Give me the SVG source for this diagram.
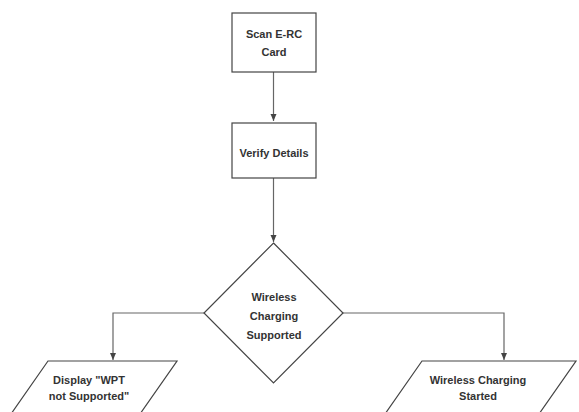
<svg xmlns="http://www.w3.org/2000/svg" width="579" height="412" viewBox="0 0 579 412">
<style>
.shape{fill:#fff;stroke:#444;stroke-width:1.2}
.conn{fill:none;stroke:#666;stroke-width:1.2}
.lbl{font-family:"Liberation Sans",Arial,sans-serif;font-size:11px;font-weight:bold;fill:#333;text-anchor:middle}
</style>
<defs>
<marker id="arr" markerWidth="8" markerHeight="8" refX="7" refY="4" orient="auto" markerUnits="userSpaceOnUse">
<path d="M0,1 L7,4 L0,7 Z" fill="#444"/>
</marker>
</defs>
<rect width="579" height="412" fill="#fff"/>
<g id="connectors">
<path class="conn" d="M273.5,72 V121" marker-end="url(#arr)"/>
<path class="conn" d="M273.5,178 V242" marker-end="url(#arr)"/>
<path class="conn" d="M204,313 H113 V360" marker-end="url(#arr)"/>
<path class="conn" d="M343,313 H504 V360" marker-end="url(#arr)"/>
</g>
<g id="scan">
<rect class="shape" x="232" y="13" width="84" height="59"/>
<text class="lbl" x="274" y="38">Scan E-RC</text>
<text class="lbl" x="274" y="56">Card</text>
</g>
<g id="verify">
<rect class="shape" x="232" y="123" width="84" height="55"/>
<text class="lbl" x="274" y="157">Verify Details</text>
</g>
<g id="decision">
<polygon class="shape" points="273.5,243 343,313 273.5,383 204,313"/>
<text class="lbl" x="274" y="301">Wireless</text>
<text class="lbl" x="274" y="320">Charging</text>
<text class="lbl" x="274" y="339">Supported</text>
</g>
<g id="not-supported">
<polygon class="shape" points="48,361 177,361 140,414 11,414"/>
<text class="lbl" x="89" y="384">Display "WPT</text>
<text class="lbl" x="89" y="400">not Supported"</text>
</g>
<g id="started">
<polygon class="shape" points="422,361 576,361 539,414 385,414"/>
<text class="lbl" x="478" y="384">Wireless Charging</text>
<text class="lbl" x="478" y="400">Started</text>
</g>
</svg>
